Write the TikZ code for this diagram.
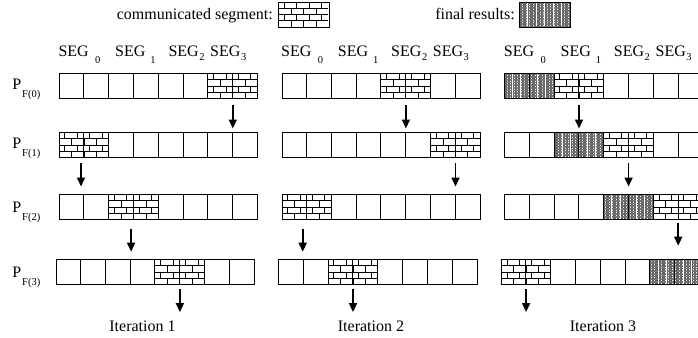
\documentclass[tikz,border=0pt]{standalone}
\usepackage{fontspec}
\setmainfont{Liberation Serif}
\usetikzlibrary{arrows.meta,calc}

% brick wall inside a box: node, width, height
\newcommand\brickat[3]{%
  \begin{scope}[shift={(#1.north west)}, line width=0.55pt]
    \foreach \r in {1,2,3} \draw (0,\r*#3/4) -- (#2,\r*#3/4);
    \foreach \r in {0,2} \foreach \k in {0,...,3} \draw ({(0.46+\k)*#2/4},\r*#3/4) -- ++(0,#3/4);
    \foreach \r in {1,3} \foreach \k in {1,...,3} \draw ({\k*#2/4},\r*#3/4) -- ++(0,#3/4);
  \end{scope}}
% dense mesh inside a box: node, width, height
\newcommand\meshat[3]{%
  \begin{scope}[shift={(#1.north west)}, line width=0.35pt]
    \foreach \x in {0.7,2.1,...,#2} \draw[black!65] (\x,0) -- (\x,#3);
    \foreach \y in {0.8,2.4,...,#3} \draw[black!55] (0,\y) -- (#2,\y);
    \foreach \k in {1,...,5} \draw[white, line width=0.9pt] ({\k*#2/6},0.5) -- ({\k*#2/6},#3-0.5);
  \end{scope}}
\newcommand\fillsegplain[1]{}
\newcommand\fillsegcomm[1]{\brickat{#1}{49.6}{25}}
\newcommand\fillsegfinal[1]{\meshat{#1}{49.6}{25}}

\tikzset{
  seg/.style={rectangle, anchor=north west, inner sep=0pt,
    minimum width=49.6pt, minimum height=25pt},
  rowbox/.style={rectangle, anchor=north west, inner sep=0pt, draw, line width=0.9pt,
    minimum width=198.4pt, minimum height=25pt},
  keybox/.style={rectangle, anchor=north west, inner sep=0pt, line width=0.9pt,
    minimum height=24pt},
  cellline/.style={line width=0.9pt},
  flow/.style={-{Triangle[width=8pt,length=9pt]}, line width=1.6pt},
  txt/.style={inner sep=0pt, font=\fontsize{16}{19}\selectfont},
}

% small lowered index
\newcommand\lowidx[3]{\kern#2\raisebox{-#3}{\fontsize{10.5}{12}\selectfont #1}}

% one processor row: name, left x, top y, kinds of the four segments
\newcommand\procrow[4]{%
  \foreach \st [count=\i from 0] in {#4} {
    \node[seg] (#1s\i) at (#2+\i*49.6,#3) {};
    \csname fill\st\endcsname{#1s\i}
  }
  \foreach \c in {1,...,7} \draw[cellline] (#2+\c*24.8,#3) -- ++(0,25);
  \node[rowbox] (#1) at (#2,#3) {};
}
% arrow passing a segment down to the next row
\newcommand\pass[5]{%
  \draw[flow] ($(#1.south)+(#3,#4)$) -- ($(#1.south |- #2.north)+(#3,-#5)$);
}

\begin{document}
\begin{tikzpicture}[x=1pt,y=-1pt]
\path[use as bounding box] (0,0) rectangle (698,337);
\clip (0,0) rectangle (698,337);

% legend
\node[txt, anchor=base east] (commtxt) at (273,19.5) {communicated segment:};
\node[keybox, minimum width=50pt] (commkey) at (278.3,2.7) {};
\brickat{commkey}{50}{24}
\draw[cellline] (commkey.north west) rectangle (commkey.south east);
\node[txt, anchor=base east] (fintxt) at (515,19.5) {final results:};
\node[keybox, minimum width=50.7pt] (finkey) at (519.3,2.7) {};
\meshat{finkey}{50.7}{24}
\draw[cellline] (finkey.north west) rectangle (finkey.south east);

% processor labels
\node[txt, anchor=base west] (p0) at (12.3,89) {P\lowidx{F(0)}{0.8pt}{8pt}};
\node[txt, anchor=base west] (p1) at (12.3,148.3) {P\lowidx{F(1)}{0.8pt}{8pt}};
\node[txt, anchor=base west] (p2) at (12.3,212.7) {P\lowidx{F(2)}{0.8pt}{8pt}};
\node[txt, anchor=base west] (p3) at (12.3,277.7) {P\lowidx{F(3)}{0.8pt}{8pt}};

% segment headings above each iteration
\foreach \k/\X in {1/59,2/281.7,3/504.4} {
  \node[txt, anchor=base west] (h\k s0) at (\X-0.7,56.7) {SEG\lowidx{0}{6.5pt}{6.6pt}};
  \node[txt, anchor=base west] (h\k s1) at (\X+56,56.7) {SEG\lowidx{1}{5pt}{6.6pt}};
  \node[txt, anchor=base west] (h\k s2) at (\X+109.3,56.7) {SEG\lowidx{2}{0.6pt}{3.3pt}};
  \node[txt, anchor=base west] (h\k s3) at (\X+151,56.7) {SEG\lowidx{3}{0.6pt}{3.3pt}};
}

% iteration 1
\procrow{a0}{59}{73.3}{segplain,segplain,segplain,segcomm}
\procrow{a1}{59}{132.3}{segcomm,segplain,segplain,segplain}
\procrow{a2}{59}{194.3}{segplain,segcomm,segplain,segplain}
\procrow{a3}{55.7}{259.3}{segplain,segplain,segcomm,segplain}
% iteration 2
\procrow{b0}{281.7}{73.3}{segplain,segplain,segcomm,segplain}
\procrow{b1}{281.7}{132.3}{segplain,segplain,segplain,segcomm}
\procrow{b2}{281.7}{194.3}{segcomm,segplain,segplain,segplain}
\procrow{b3}{278.4}{259.3}{segplain,segcomm,segplain,segplain}
% iteration 3
\procrow{c0}{504.4}{73.3}{segfinal,segcomm,segplain,segplain}
\procrow{c1}{504.4}{132.3}{segplain,segfinal,segcomm,segplain}
\procrow{c2}{504.4}{194.3}{segplain,segplain,segfinal,segcomm}
\procrow{c3}{501.1}{259.3}{segcomm,segplain,segplain,segfinal}

% transfers, iteration 1
\pass{a0s3}{a1}{0}{6.7}{3.8}
\pass{a1s0}{a2}{-3}{5.7}{7.8}
\pass{a2s1}{a3}{-2.5}{9}{7.6}
\coordinate (aout) at ($(a3s2.south)+(0,27.4)$);
\draw[flow] ($(a3s2.south)+(0,4)$) -- (aout);
% transfers, iteration 2
\pass{b0s2}{b1}{0}{6.7}{3.8}
\pass{b1s3}{b2}{0}{5.7}{7.8}
\pass{b2s0}{b3}{-4}{9}{7.6}
\coordinate (bout) at ($(b3s1.south)+(0,27.4)$);
\draw[flow] ($(b3s1.south)+(0,4)$) -- (bout);
% transfers, iteration 3
\pass{c0s1}{c1}{0}{6.7}{3.8}
\pass{c1s2}{c2}{0}{5.7}{7.8}
\pass{c2s3}{c3}{0}{3}{13.6}
\coordinate (cout) at ($(c3s0.south)+(0,27.4)$);
\draw[flow] ($(c3s0.south)+(0,4)$) -- (cout);

% iteration captions
\node[txt, anchor=base] (it1) at (142.5,331.7) {Iteration 1};
\node[txt, anchor=base] (it2) at (371,331.7) {Iteration 2};
\node[txt, anchor=base] (it3) at (603,331.7) {Iteration 3};
\end{tikzpicture}
\end{document}
